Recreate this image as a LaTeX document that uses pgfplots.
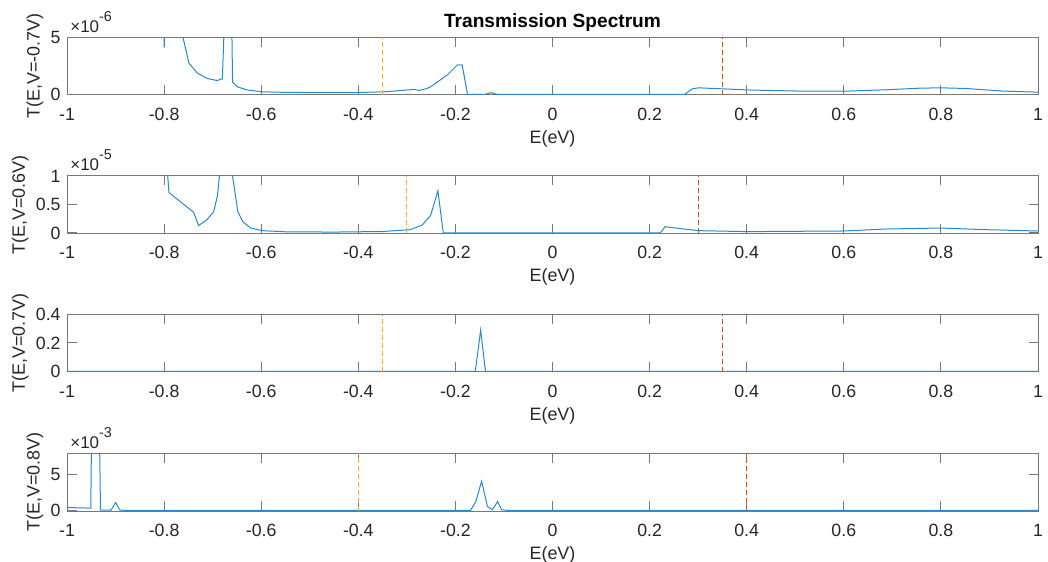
\documentclass[border=0pt]{standalone}
\usepackage{fontspec}
\setmainfont{Liberation Sans}
\usepackage{pgfplots}
\pgfplotsset{compat=1.18}
\definecolor{mblue}{RGB}{40,135,205}
\definecolor{myellow}{RGB}{237,177,32}
\definecolor{morange}{RGB}{217,83,25}
\definecolor{mtext}{RGB}{38,38,38}
\definecolor{maxis}{RGB}{120,120,120}
\newcommand{\tf}{\fontsize{8.9}{10}\selectfont}
\newcommand{\lf}{\fontsize{9}{10}\selectfont}
\newcommand{\mult}[1]{\fontsize{8.5}{9}\selectfont\texttimes10\raisebox{5.5bp}{\fontsize{7.2}{8}\selectfont #1}}
\pgfplotsset{
  mstyle/.style={
    scale only axis, width=485.5bp, height=28.75bp,
    xmin=-1, xmax=1,
    xtick={-1,-0.8,-0.6,-0.4,-0.2,0,0.2,0.4,0.6,0.8,1},
    xticklabels={-1,-0.8,-0.6,-0.4,-0.2,0,0.2,0.4,0.6,0.8,1},
    tick align=inside, tick pos=both,
    major tick length=4.75bp,
    axis line style={maxis, line width=0.5bp},
    tick style={maxis, line width=0.5bp},
    every tick label/.append style={font=\tf, text=mtext, inner sep=0pt},
    xticklabel style={anchor=north, yshift=-6.3bp},
    yticklabel style={anchor=east, xshift=-3bp},
    xlabel={E(eV)},
    xlabel style={at={(axis description cs:0.5,0)}, anchor=north, yshift=-17.5bp, inner sep=0pt, font=\lf, text=mtext},
    ylabel style={font=\lf, text=mtext, inner sep=3.5bp},
    scaled y ticks=false,
  },
  dat/.style={mblue, line width=0.5bp, no marks},
  vy/.style={myellow, line width=0.5bp, no marks, dash pattern=on 2.5bp off 1.5bp},
  vo/.style={morange, line width=0.5bp, no marks, dash pattern=on 2.5bp off 1.5bp},
}
\begin{document}
\begin{tikzpicture}
\useasboundingbox (0,0) rectangle (524bp,281bp);
% ---------------- Panel 1
\begin{axis}[mstyle, name=ax1, at={(33.5bp,233.5bp)}, anchor=south west,
  ymin=-5e-8, ymax=5e-6, ytick={0,5e-6}, yticklabels={0,5},
  ylabel={T(E,V=-0.7V)}]
\addplot[dat] table {
-1.0 2e-5
-0.9 2e-5
-0.801 2e-5
-0.800 4.1e-6
-0.799 2e-5
-0.770 1e-5
-0.761 5e-6
-0.749 2.76e-6
-0.732 1.89e-6
-0.711 1.40e-6
-0.691 1.22e-6
-0.680 1.37e-6
-0.677 5e-6
-0.675 3e-5
-0.668 3e-5
-0.659 1.08e-6
-0.649 0.67e-6
-0.630 0.40e-6
-0.598 0.23e-6
-0.550 0.18e-6
-0.450 0.15e-6
-0.400 0.17e-6
-0.347 0.23e-6
-0.310 0.35e-6
-0.285 0.44e-6
-0.275 0.35e-6
-0.260 0.50e-6
-0.251 0.67e-6
-0.235 1.15e-6
-0.216 1.74e-6
-0.196 2.59e-6
-0.186 2.59e-6
-0.175 0
-0.140 0
-0.127 0.15e-6
-0.113 0
0.272 0
0.288 0.49e-6
0.301 0.58e-6
0.350 0.49e-6
0.412 0.38e-6
0.515 0.29e-6
0.605 0.29e-6
0.688 0.41e-6
0.757 0.55e-6
0.800 0.58e-6
0.853 0.52e-6
0.929 0.29e-6
1.000 0.20e-6
};
\addplot[vy] coordinates {(-0.35,-5e-8) (-0.35,5e-6)};
\addplot[vo] coordinates {(0.35,-5e-8) (0.35,5e-6)};
\end{axis}
\node[anchor=base west, inner sep=0pt, text=mtext] at ([xshift=1.5bp, yshift=2.5bp]ax1.north west) {\mult{-6}};
\node[anchor=base, inner sep=0pt, text=black, font=\fontsize{9.6}{11}\selectfont\bfseries] at ([yshift=4.85bp]ax1.north) {Transmission Spectrum};
% ---------------- Panel 2
\begin{axis}[mstyle, name=ax2, at={(33.5bp,164.25bp)}, anchor=south west,
  ymin=-1e-7, ymax=1e-5, ytick={0,5e-6,1e-5}, yticklabels={0,0.5,1},
  ylabel={T(E,V=0.6V)}]
\addplot[dat] table {
-1.0 3e-5
-0.8 3e-5
-0.797 1.5e-5
-0.790 0.71e-5
-0.739 0.36e-5
-0.729 0.13e-5
-0.712 0.23e-5
-0.698 0.37e-5
-0.690 0.66e-5
-0.686 1.0e-5
-0.683 2e-5
-0.665 2e-5
-0.659 1.0e-5
-0.648 0.37e-5
-0.638 0.20e-5
-0.622 0.086e-5
-0.598 0.04e-5
-0.550 0.02e-5
-0.450 0.015e-5
-0.350 0.025e-5
-0.293 0.057e-5
-0.268 0.14e-5
-0.251 0.31e-5
-0.236 0.74e-5
-0.225 0
0.222 0
0.232 0.11e-5
0.253 0.086e-5
0.301 0.04e-5
0.400 0.023e-5
0.600 0.034e-5
0.688 0.069e-5
0.800 0.086e-5
0.894 0.057e-5
1.000 0.034e-5
};
\addplot[vy] coordinates {(-0.3,-1e-7) (-0.3,1e-5)};
\addplot[vo] coordinates {(0.3,-1e-7) (0.3,1e-5)};
\end{axis}
\node[anchor=base west, inner sep=0pt, text=mtext] at ([xshift=1.5bp, yshift=2.5bp]ax2.north west) {\mult{-5}};
% ---------------- Panel 3
\begin{axis}[mstyle, name=ax3, at={(33.5bp,95bp)}, anchor=south west,
  ymin=-0.004, ymax=0.4, ytick={0,0.2,0.4}, yticklabels={0,0.2,0.4},
  ylabel={T(E,V=0.7V)}]
\addplot[dat] table {
-1.0 0
-0.159 0
-0.148 0.29
-0.138 0
1.0 0
};
\addplot[vy] coordinates {(-0.35,-0.004) (-0.35,0.4)};
\addplot[vo] coordinates {(0.35,-0.004) (0.35,0.4)};
\end{axis}
% ---------------- Panel 4
\begin{axis}[mstyle, name=ax4, at={(33.5bp,25.5bp)}, anchor=south west,
  ymin=-8e-5, ymax=8e-3, ytick={0,5e-3}, yticklabels={0,5},
  ylabel={T(E,V=0.8V)}]
\addplot[dat] table {
-1.000 0.41e-3
-0.951 0.32e-3
-0.948 2e-2
-0.935 2e-2
-0.931 0.05e-3
-0.909 0.05e-3
-0.900 1.1e-3
-0.891 0.05e-3
-0.876 0
-0.169 0
-0.158 1.24e-3
-0.146 4.1e-3
-0.134 0.55e-3
-0.124 0.1e-3
-0.113 1.24e-3
-0.105 0.1e-3
-0.093 0
1.000 0
};
\addplot[vy] coordinates {(-0.4,-8e-5) (-0.4,8e-3)};
\addplot[vo] coordinates {(0.4,-8e-5) (0.4,8e-3)};
\end{axis}
\node[anchor=base west, inner sep=0pt, text=mtext] at ([xshift=1.5bp, yshift=2.5bp]ax4.north west) {\mult{-3}};
\end{tikzpicture}
\end{document}
